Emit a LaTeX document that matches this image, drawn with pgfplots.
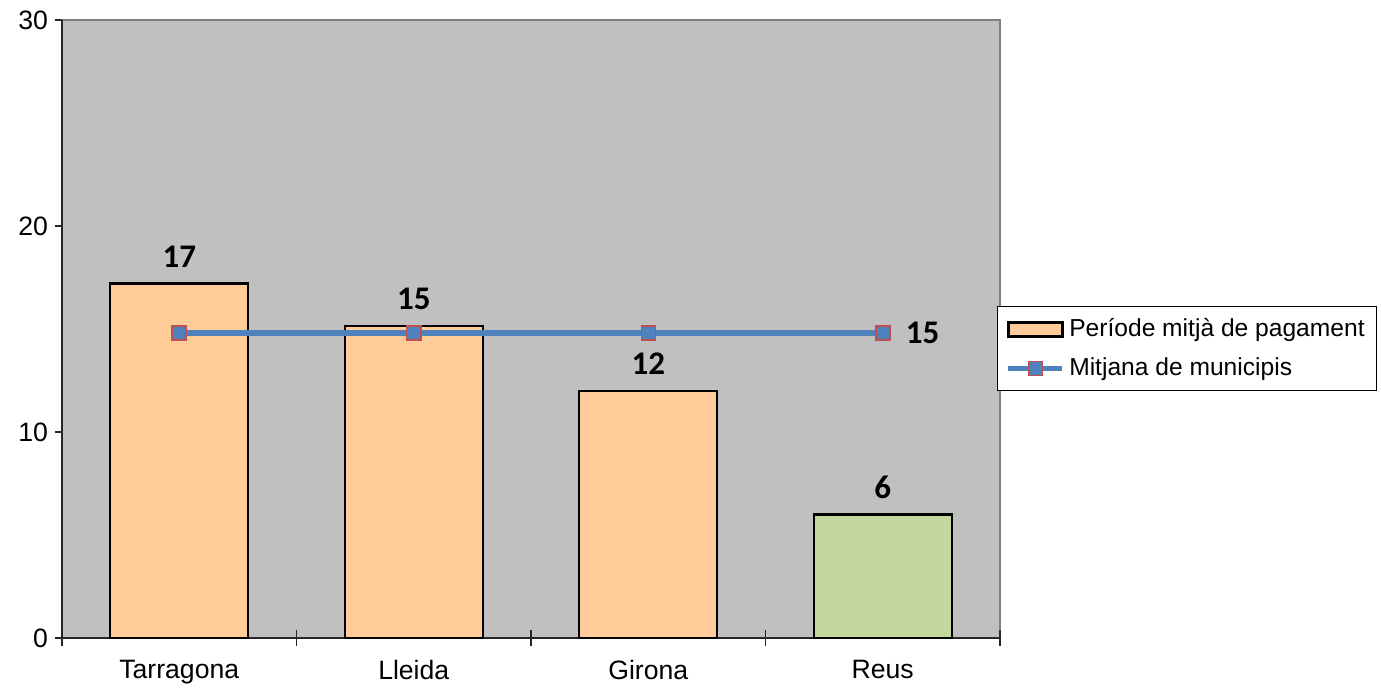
\documentclass[border=0pt]{standalone}
\usepackage{pgfplots}
\pgfplotsset{compat=1.18}
\usepackage{fontspec}
\setmainfont{Liberation Sans}
\newfontfamily\calibri{Carlito}
\definecolor{plotbg}{HTML}{C0C0C0}
\definecolor{barorange}{HTML}{FFCC99}
\definecolor{bargreen}{HTML}{C3D69B}
\definecolor{lineblue}{HTML}{4F81BD}
\definecolor{markred}{HTML}{C0504D}
\pgfplotsset{
  barlegend/.style={legend image code/.code={\draw[##1] (0pt,-3.5pt) rectangle (27pt,3.5pt);}},
  linelegend/.style={legend image code/.code={\draw[mark repeat=2,mark phase=2,##1] plot coordinates {(0pt,0pt) (13.5pt,0pt) (27pt,0pt)};}},
}
\begin{document}
\begin{tikzpicture}
\begin{axis}[
  at={(31pt,26.5pt)}, anchor=south west,
  width=469pt, height=309pt, scale only axis,
  xmin=-0.5, xmax=3.5, ymin=0, ymax=30,
  axis lines=left,
  axis line style={-, draw=black!85, line width=0.8pt},
  axis background/.style={fill=plotbg, draw=black!50, line width=1pt},
  xtick={0,1,2,3},
  xticklabels={Tarragona,Lleida,Girona,Reus},
  minor xtick={-0.5,0.5,1.5,2.5,3.5},
  major x tick style={draw=none},
  minor tick length=8pt,
  major tick length=3.5pt,
  xtick align=center, ytick align=outside,
  ytick={0,10,20,30},
  tick style={black!85, line width=0.6pt},
  /pgf/number format/assume math mode=true,
  tick label style={font=\fontsize{13.3}{16}\selectfont},
  xticklabel style={yshift=-6pt},
  legend style={at={(0.997,0.468)}, anchor=west, draw=black, line width=0.5pt,
    fill=white, font=\fontsize{12.3}{14}\selectfont, row sep=5pt,
    inner xsep=4pt, inner ysep=4pt},
  legend cell align=left,
  every node near coord/.append style={font=\fontsize{16.5}{19}\selectfont\calibri\bfseries, text=black},
]
\addplot[ybar, bar width=69pt, fill=barorange, draw=black, line width=1.2pt,
  barlegend,
  nodes near coords, point meta=explicit symbolic,
  nodes near coords style={yshift=4pt}]
  coordinates {(0,17.2)[17] (1,15.15)[15] (2,12)[12]};
\addlegendentry{Període mitjà de pagament}

\addplot[ybar, bar width=69pt, fill=bargreen, draw=black, line width=1.2pt, forget plot,
  nodes near coords, point meta=explicit symbolic,
  nodes near coords style={yshift=4pt}]
  coordinates {(3,6)[6]};

\addplot[color=lineblue, line width=2.8pt, mark=square*, mark size=3.5pt,
  mark options={fill=lineblue, draw=markred, line width=0.75pt},
  linelegend]
  coordinates {(0,14.8) (1,14.8) (2,14.8) (3,14.8)};
\addlegendentry{Mitjana de municipis}

\addplot[draw=none, mark=none, forget plot, nodes near coords, point meta=explicit symbolic,
  nodes near coords style={anchor=west, xshift=8pt}]
  coordinates {(3,14.8)[15]};
\end{axis}
\pgfresetboundingbox
\path[use as bounding box] (0pt,0pt) rectangle (690.5pt,345.5pt);
\end{tikzpicture}
\end{document}
